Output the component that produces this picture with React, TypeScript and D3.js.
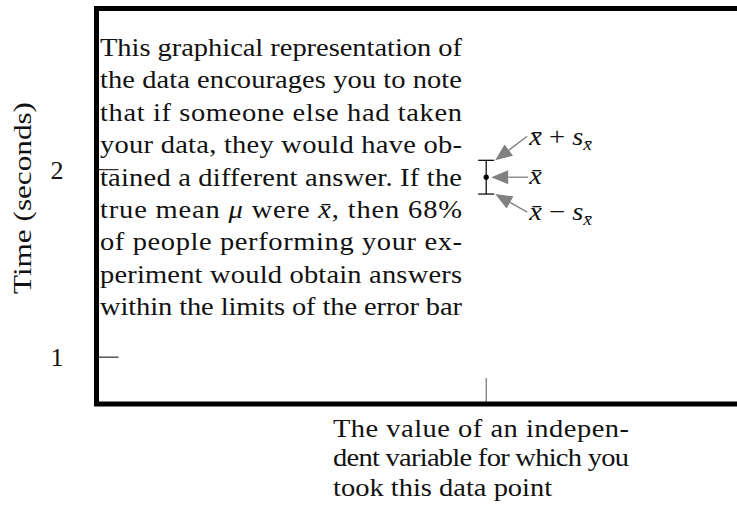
import React from "react";
import * as d3 from "d3";

// Measurement shown as a single point with its standard-error bar
const pointX = [0.6];
const pointMean = [1.96];
const pointErr = [0.09];

const xTicks = [0.6];
const yTicks = [1, 2];
const yTickLabels = ["1", "2"];

const yTitle = "Time (seconds)";

// Braces mark math symbols set in italic
const noteLines = [
  "This graphical representation of",
  "the data encourages you to note",
  "that if someone else had taken",
  "your data, they would have ob-",
  "tained a different answer. If the",
  "true mean {μ} were {x̄}, then 68%",
  "of people performing your ex-",
  "periment would obtain answers",
  "within the limits of the error bar",
];

const captionLines = [
  "The value of an indepen-",
  "dent variable for which you",
  "took this data point",
];

const W = 737;
const H = 506;
const FONT = "'Liberation Serif', 'Times New Roman', serif";
const GRAY = "#808080";
const INK = "#111";
const SX = 1.14; // horizontal widening of the serif face

function pieces(line: string) {
  const out: { t: string; it: boolean }[] = [];
  const re = /\{([^}]*)\}/g;
  let last = 0;
  let m: RegExpExecArray | null;
  while ((m = re.exec(line))) {
    if (m.index > last) out.push({ t: line.slice(last, m.index), it: false });
    out.push({ t: m[1], it: true });
    last = m.index + m[0].length;
  }
  if (last < line.length) out.push({ t: line.slice(last), it: false });
  return out;
}

function Arrow({ x1, y1, x2, y2 }: { x1: number; y1: number; x2: number; y2: number }) {
  const ang = Math.atan2(y2 - y1, x2 - x1);
  const len = 17;
  const hw = 7;
  const bx = x2 - len * Math.cos(ang);
  const by = y2 - len * Math.sin(ang);
  const px = -Math.sin(ang) * hw;
  const py = Math.cos(ang) * hw;
  return (
    <g>
      <line x1={x1} y1={y1} x2={bx} y2={by} stroke={GRAY} strokeWidth={1.3} />
      <polygon points={`${x2},${y2} ${bx + px},${by + py} ${bx - px},${by - py}`} fill={GRAY} />
    </g>
  );
}

function MathBar({ sign, x, y }: { sign: string | null; x: number; y: number }) {
  return (
    <g transform={`translate(${x},${y}) scale(${SX},1)`}>
      <text x={0} y={0} fontFamily={FONT} fontSize={25} fill={INK}>
        <tspan fontStyle="italic">x̄</tspan>
        {sign && (
          <>
            <tspan> {sign} </tspan>
            <tspan fontStyle="italic">s</tspan>
            <tspan fontStyle="italic" fontSize={17} dy={5}>x̄</tspan>
          </>
        )}
      </text>
    </g>
  );
}

function Block({
  lines,
  x0,
  y0,
  step,
  width,
  justifyLast,
}: {
  lines: string[];
  x0: number;
  y0: number;
  step: number;
  width: number;
  justifyLast: boolean;
}) {
  return (
    <g transform={`translate(${x0},0) scale(${SX},1)`} fontFamily={FONT} fontSize={25} fill={INK}>
      {lines.map((line, i) => {
        const justify = justifyLast || i < lines.length - 1;
        return (
          <text
            key={i}
            x={0}
            y={y0 + i * step}
            {...(justify ? { textLength: width / SX, lengthAdjust: "spacing" } : {})}
          >
            {pieces(line).map((p, j) => (
              <tspan key={j} fontStyle={p.it ? "italic" : "normal"}>
                {p.t}
              </tspan>
            ))}
          </text>
        );
      })}
    </g>
  );
}

export default function App() {
  const left = 96.5;
  const top = 8.5;
  const bottom = 404;
  const x = d3.scaleLinear().domain([0, 1]).range([left, 746]);
  const y = d3.scaleLinear().domain([0.75, 2.86]).range([bottom, top]);

  const px = x(pointX[0]);
  const yMean = y(pointMean[0]);
  const yHi = y(pointMean[0] + pointErr[0]);
  const yLo = y(pointMean[0] - pointErr[0]);
  const cap = 8;

  const labelX = px + 43;

  return (
    <svg width={W} height={H} style={{ position: "absolute", left: 0, top: 0, background: "#fff" }}>
      {/* paragraph inside the plot */}
      <Block lines={noteLines} x0={100} y0={56} step={32.4} width={362} justifyLast={true} />

      {/* y ticks and labels */}
      {yTicks.map((v, i) => (
        <g key={v}>
          <line x1={left + 2} x2={left + 22} y1={y(v)} y2={y(v)} stroke="#000" strokeWidth={1} />
          <text x={57} y={y(v)} dy="0.35em" textAnchor="middle" fontFamily={FONT} fontSize={26} fill={INK}>
            {yTickLabels[i]}
          </text>
        </g>
      ))}

      {/* x ticks */}
      {xTicks.map((v) => (
        <line key={v} x1={x(v)} x2={x(v)} y1={bottom - 26} y2={bottom - 2} stroke="#555" strokeWidth={1} />
      ))}

      {/* y axis title */}
      <text
        transform={`translate(31, 198) rotate(-90)`}
        textAnchor="middle"
        fontFamily={FONT}
        fontSize={25}
        fill={INK}
        textLength={192}
        lengthAdjust="spacingAndGlyphs"
      >
        {yTitle}
      </text>

      {/* caption below x axis */}
      <Block lines={captionLines} x0={333} y0={437} step={29.5} width={296} justifyLast={false} />

      {/* error bar */}
      <g stroke={INK} strokeWidth={1.3}>
        <line x1={px} x2={px} y1={yHi} y2={yLo} />
        <line x1={px - cap} x2={px + cap} y1={yHi} y2={yHi} />
        <line x1={px - cap} x2={px + cap} y1={yLo} y2={yLo} />
      </g>
      <circle cx={px} cy={yMean} r={2.6} fill="#000" />

      {/* annotation arrows */}
      <Arrow x1={px + 41} y1={yHi - 24} x2={px + 9} y2={yHi} />
      <Arrow x1={px + 42} y1={yMean} x2={px + 5} y2={yMean} />
      <Arrow x1={px + 41} y1={yLo + 18} x2={px + 9} y2={yLo} />

      <MathBar sign="+" x={labelX} y={yHi - 15} />
      <MathBar sign={null} x={labelX} y={yMean + 7} />
      <MathBar sign="−" x={labelX} y={yLo + 26} />

      {/* heavy frame */}
      <rect x={left} y={top} width={700} height={bottom - top} fill="none" stroke="#000" strokeWidth={5} />
    </svg>
  );
}
